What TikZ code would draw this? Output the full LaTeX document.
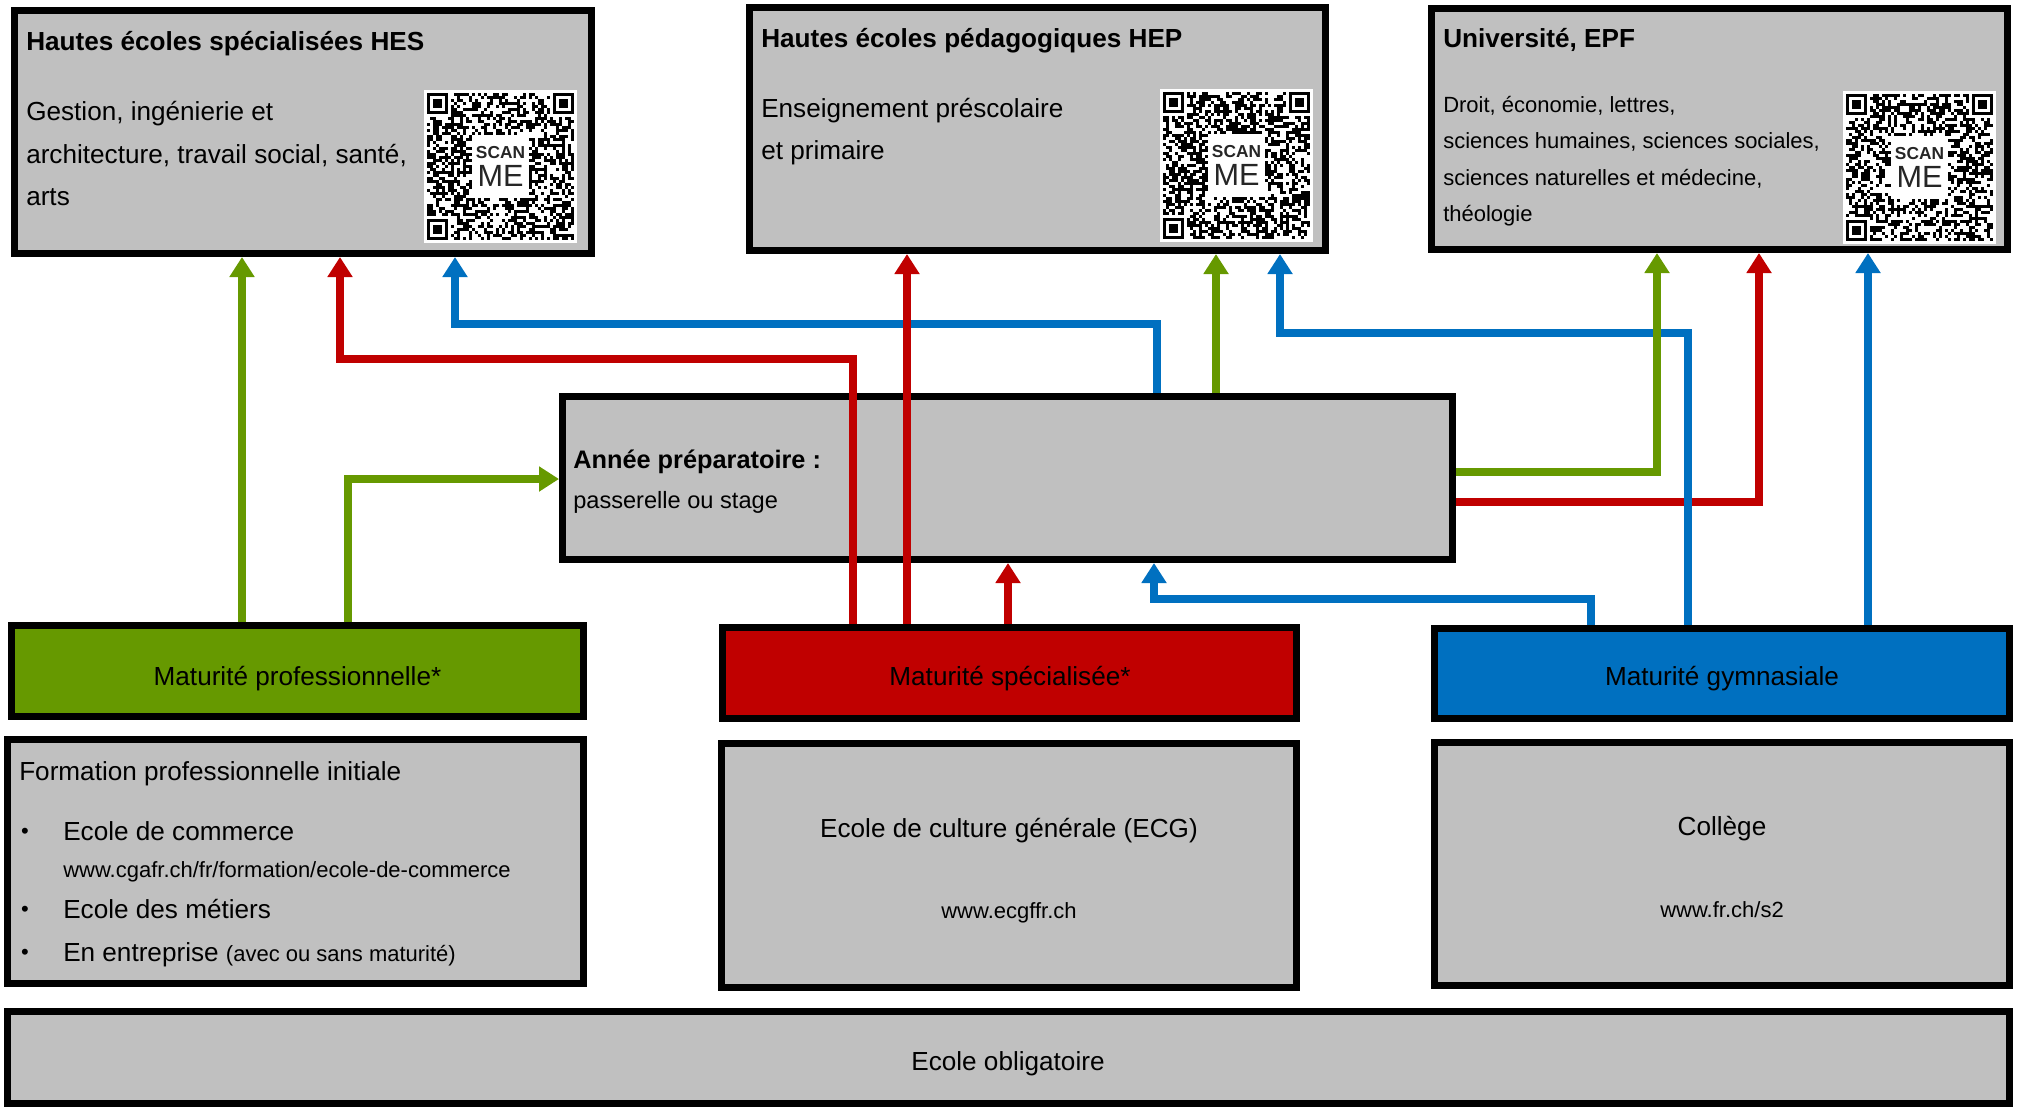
\documentclass[tikz,border=0pt]{standalone}
\usepackage{fontspec}
\setmainfont{Liberation Sans}
\usetikzlibrary{arrows.meta}

\definecolor{boxgray}{RGB}{192,192,192}
\definecolor{matgreen}{RGB}{102,153,0}
\definecolor{matred}{RGB}{192,0,0}
\definecolor{matblue}{RGB}{0,112,192}

% box from its outer corners (pixels)
\newcommand\boxnode[6][boxgray]{%
  \node[box, fill=#1, minimum width={(#5-#3)*0.75pt-4.9pt},
    minimum height={(#6-#4)*0.75pt-4.9pt}] (#2) at ({(#3+#5)/2},{(#4+#6)/2}) {};}

% qr code, top left corner at (#2,#3)
\newcommand\qrcode[3]{%
  \node[qrbg] (#1) at (#2+76.5,#3+76.5) {};
  \foreach \i in {0,...,48}{\foreach \j in {0,...,48}{
    \pgfmathtruncatemacro\qrskip{((\i<8)&&(\j<8)) || ((\i>40)&&(\j<8)) || ((\i<8)&&(\j>40)) || ((\i>14)&&(\i<34)&&(\j>13)&&(\j<35))}
    \pgfmathtruncatemacro\qrdot{rnd<0.5}
    \ifnum\qrskip=0 \ifnum\qrdot=1 \fill (#2+3+3*\i,#3+3+3*\j) rectangle ++(3.05,3.05);\fi\fi}}
  \foreach \a/\b in {0/0,42/0,0/42}{
    \fill (#2+3+3*\a,#3+3+3*\b) rectangle ++(21,21);
    \fill[white] (#2+6+3*\a,#3+6+3*\b) rectangle ++(15,15);
    \fill (#2+9+3*\a,#3+9+3*\b) rectangle ++(9,9);}
  \node[qrtext, font=\fontsize{13}{14}\selectfont\bfseries] (#1scan) at (#2+76.5,#3+68) {SCAN};
  \node[qrtext, font=\fontsize{23}{26}\selectfont] (#1me) at (#2+76.5,#3+96) {ME};}

\begin{document}
\begin{tikzpicture}[x=0.75pt, y=-0.75pt,
    box/.style={draw, line width=4.9pt, inner sep=0pt},
    qrbg/.style={fill=white, minimum size=114.75pt, inner sep=0pt},
    qrtext/.style={anchor=base, inner sep=0pt, text=black!85},
    main/.style={font=\fontsize{19.6}{23}\selectfont, anchor=base west, inner sep=0pt},
    small/.style={font=\fontsize{16.5}{20}\selectfont, anchor=base west, inner sep=0pt},
    head/.style={font=\fontsize{19.6}{23}\selectfont\bfseries, anchor=base west, inner sep=0pt},
    link/.style={line width=6pt, -{Triangle[length=15pt, width=18pt]}}]
    \useasboundingbox (0,0) rectangle (2018,1108);
    \pgfmathsetseed{7}

    \boxnode{hes}{11}{7}{595}{257}
    \boxnode{hep}{746}{4}{1329}{254}
    \boxnode{uni}{1428}{5}{2011}{253}
    \boxnode{annee}{559}{393}{1456}{563}
    \boxnode[matgreen]{matpro}{8}{622}{587}{720}
    \boxnode[matred]{matspec}{719}{624}{1300}{722}
    \boxnode[matblue]{matgym}{1431}{625}{2013}{722}
    \boxnode{form}{4}{736}{587}{987}
    \boxnode{ecg}{718}{740}{1300}{991}
    \boxnode{coll}{1431}{739}{2013}{989}
    \boxnode{oblig}{4}{1008}{2013}{1107}

    \qrcode{hesqr}{424}{90}
    \qrcode{hepqr}{1160}{89}
    \qrcode{uniqr}{1843}{91}

    \node[head] (hestitle) at (26,50) {Hautes écoles spécialisées HES};
    \node[main] (hes1) at (26,120) {Gestion, ingénierie et};
    \node[main] (hes2) at (26,163) {architecture, travail social, santé,};
    \node[main] (hes3) at (26,205) {arts};

    \node[head] (heptitle) at (761,47) {Hautes écoles pédagogiques HEP};
    \node[main] (hep1) at (761,117) {Enseignement préscolaire};
    \node[main] (hep2) at (761,159) {et primaire};

    \node[head] (unititle) at (1443,47) {Université, EPF};
    \node[small] (uni1) at (1443,112) {Droit, économie, lettres,};
    \node[small] (uni2) at (1443,148) {sciences humaines, sciences sociales,};
    \node[small] (uni3) at (1443,185) {sciences naturelles et médecine,};
    \node[small] (uni4) at (1443,221) {théologie};

    \node[head, font=\fontsize{19}{23}\selectfont\bfseries] (anneetitle) at (573,468) {Année préparatoire :};
    \node[main, font=\fontsize{17.7}{21}\selectfont] (annee1) at (573,508) {passerelle ou stage};

    \node[main, anchor=base] (matprotxt) at (297.5,685) {Maturité professionnelle*};
    \node[main, anchor=base] (matspectxt) at (1010,685) {Maturité spécialisée*};
    \node[main, anchor=base] (matgymtxt) at (1722,685) {Maturité gymnasiale};

    \node[main] (formtitle) at (19,780) {Formation professionnelle initiale};
    \node[small, anchor=base] (bul1) at (25,838) {\textbullet};
    \node[small, anchor=base] (bul2) at (25,916) {\textbullet};
    \node[small, anchor=base] (bul3) at (25,959) {\textbullet};
    \node[main] (form1) at (63,840) {Ecole de commerce};
    \node[small] (form1url) at (63,877) {www.cgafr.ch/fr/formation/ecole-de-commerce};
    \node[main] (form2) at (63,918) {Ecole des métiers};
    \node[main] (form3) at (63,961) {En entreprise {\fontsize{16.5}{20}\selectfont(avec ou sans maturité)}};

    \node[main, anchor=base] (ecgtxt) at (1009,837) {Ecole de culture générale (ECG)};
    \node[small, anchor=base] (ecgurl) at (1009,918) {www.ecgffr.ch};
    \node[main, anchor=base] (colltxt) at (1722,835) {Collège};
    \node[small, anchor=base] (collurl) at (1722,917) {www.fr.ch/s2};
    \node[main, anchor=base] (obligtxt) at (1008,1070) {Ecole obligatoire};

    % arrows
    \draw[link, matblue] (1157,0 |- annee.north) -- (1157,324) -| (455,0 |- hes.south);
    \draw[link, matred] (853,0 |- matspec.north) -- (853,359) -| (340,0 |- hes.south);
    \draw[link, matred] (907,0 |- matspec.north) -- (907,0 |- hep.south);
    \draw[link, matred] (1008,0 |- matspec.north) -- (1008,0 |- annee.south);
    \draw[link, matred] (annee.east |- 0,502) -| (1759,0 |- uni.south);
    \draw[link, matblue] (1688,0 |- matgym.north) -- (1688,333) -| (1280,0 |- hep.south);
    \draw[link, matblue] (1591,0 |- matgym.north) -- (1591,599) -| (1154,0 |- annee.south);
    \draw[link, matblue] (1868,0 |- matgym.north) -- (1868,0 |- uni.south);
    \draw[link, matgreen] (242,0 |- matpro.north) -- (242,0 |- hes.south);
    \draw[link, matgreen] (348,0 |- matpro.north) |- (annee.west |- 0,479);
    \draw[link, matgreen] (1216,0 |- annee.north) -- (1216,0 |- hep.south);
    \draw[link, matgreen] (annee.east |- 0,472) -| (1657,0 |- uni.south);
\end{tikzpicture}
\end{document}
